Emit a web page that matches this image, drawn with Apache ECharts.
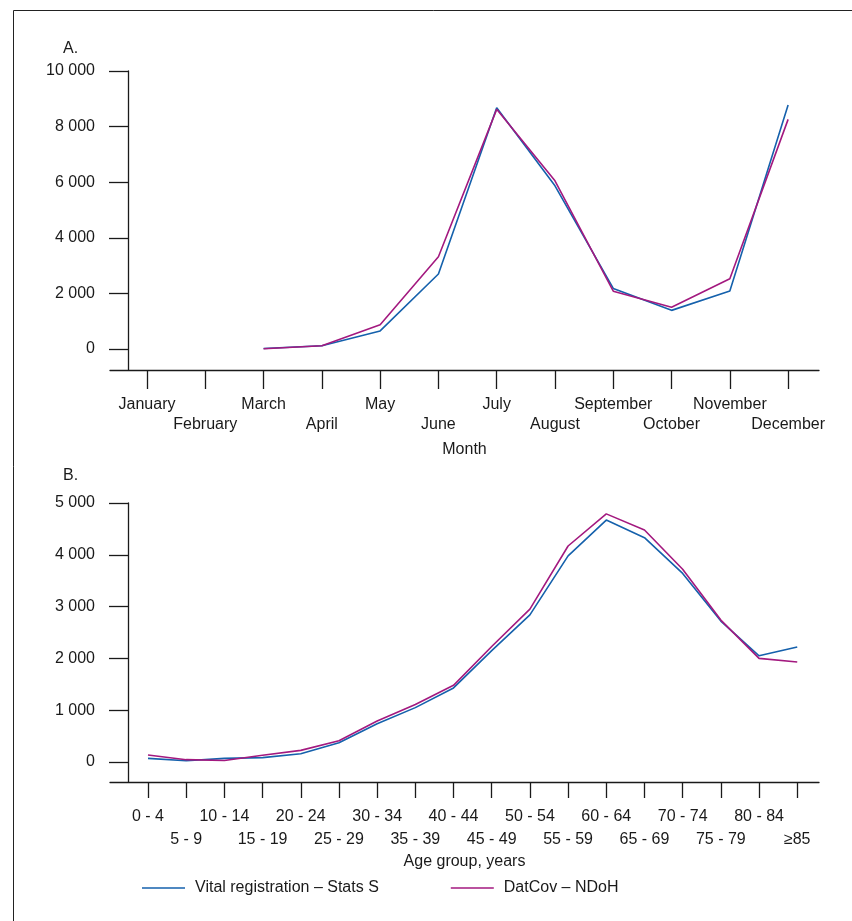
<!DOCTYPE html>
<html>
<head>
<meta charset="utf-8">
<script src="https://cdn.jsdelivr.net/npm/echarts@6/dist/echarts.min.js"></script>
<style>
  html, body { margin: 0; padding: 0; background: #fff; }
  #chart { width: 852px; height: 921px; }
</style>
</head>
<body>
<div id="chart"></div>
<script>
// ---- Data ----
const months = ['January', 'February', 'March', 'April', 'May', 'June', 'July', 'August', 'September', 'October', 'November', 'December'];
const monthVital = [null, null, 20, 120, 650, 2700, 8680, 5870, 2180, 1390, 2090, 8780];
const monthDatcov = [null, null, 10, 120, 875, 3320, 8620, 6050, 2080, 1500, 2530, 8260];

const ageGroups = ['0 - 4', '5 - 9', '10 - 14', '15 - 19', '20 - 24', '25 - 29', '30 - 34', '35 - 39', '40 - 44', '45 - 49', '50 - 54', '55 - 59', '60 - 64', '65 - 69', '70 - 74', '75 - 79', '80 - 84', '≥85'];
const ageVital = [70, 25, 70, 85, 160, 370, 740, 1050, 1430, 2150, 2840, 3980, 4670, 4330, 3640, 2720, 2050, 2220];
const ageDatcov = [135, 45, 30, 130, 225, 410, 790, 1110, 1480, 2230, 2950, 4170, 4790, 4480, 3720, 2740, 2000, 1930];

const yTicksA = [0, 2000, 4000, 6000, 8000, 10000];
const yTicksB = [0, 1000, 2000, 3000, 4000, 5000];

const seriesNames = ['Vital registration – Stats S', 'DatCov – NDoH'];
const panelTitles = ['A.', 'B.'];
const axisNames = ['Month', 'Age group, years'];

// ---- Helpers ----
const BLUE = '#1561ac';
const MAGENTA = '#a3197f';
const INK = '#1a1a1a';
const FONT = 'Liberation Sans';
const FS = 16;

function fmtThousands(v) {
  return String(v).replace(/\B(?=(\d{3})+(?!\d))/g, ' ');
}
function toPairs(arr) {
  const out = [];
  arr.forEach((v, i) => { if (v !== null) out.push([i, v]); });
  return out;
}
function idx(n) { return Array.from({ length: n }, (_, i) => i); }

// Three stacked bottom axes per panel: line+ticks, even-row labels, odd-row labels
function xAxesFor(gridIndex, cats, min, max, name, tickLen, margin1, margin2) {
  const base = {
    type: 'value', gridIndex, min, max, position: 'bottom', offset: 0,
    splitLine: { show: false }
  };
  const all = idx(cats.length);
  return [
    Object.assign({}, base, {
      name, nameLocation: 'middle', nameGap: 72,
      nameTextStyle: { fontFamily: FONT, fontSize: FS, color: INK },
      axisLine: { show: true, onZero: false, lineStyle: { color: INK, width: 1.3 } },
      axisTick: { show: true, length: tickLen, customValues: all, lineStyle: { color: INK, width: 1.3 } },
      axisLabel: { show: false }
    }),
    Object.assign({}, base, {
      axisLine: { show: false, onZero: false },
      axisTick: { show: false },
      axisLabel: {
        customValues: all.filter(i => i % 2 === 0), hideOverlap: false,
        margin: margin1, fontFamily: FONT, fontSize: FS, color: INK,
        formatter: v => cats[v]
      }
    }),
    Object.assign({}, base, {
      axisLine: { show: false, onZero: false },
      axisTick: { show: false },
      axisLabel: {
        customValues: all.filter(i => i % 2 === 1), hideOverlap: false,
        margin: margin2, fontFamily: FONT, fontSize: FS, color: INK,
        formatter: v => cats[v]
      }
    })
  ];
}
function yAxisFor(gridIndex, min, max, ticks) {
  return {
    type: 'value', gridIndex, min, max, offset: -18,
    axisLine: { show: true, onZero: false, lineStyle: { color: INK, width: 1.3 } },
    axisTick: { show: true, length: 19, customValues: ticks, lineStyle: { color: INK, width: 1.3 } },
    axisLabel: {
      customValues: ticks, margin: 33, fontFamily: FONT, fontSize: FS, color: INK,
      formatter: v => fmtThousands(v)
    },
    splitLine: { show: false }
  };
}
function lineSeries(name, data, color, xIdx, yIdx) {
  return {
    name, type: 'line', data: toPairs(data),
    xAxisIndex: xIdx, yAxisIndex: yIdx,
    symbol: 'none', smooth: false,
    lineStyle: { color, width: 1.6 }, itemStyle: { color },
    animation: false
  };
}

const chart = echarts.init(document.getElementById('chart'), null, { renderer: 'canvas' });
chart.setOption({
  animation: false,
  backgroundColor: '#fff',
  graphic: [{
    type: 'rect', left: 11, top: 8, silent: true,
    shape: { width: 900, height: 960 },
    style: { fill: 'none', stroke: '#222', lineWidth: 1 }
  }],
  title: [
    { text: panelTitles[0], left: 58, top: 36, textStyle: { fontFamily: FONT, fontSize: FS, fontWeight: 'normal', color: INK } },
    { text: panelTitles[1], left: 58, top: 463, textStyle: { fontFamily: FONT, fontSize: FS, fontWeight: 'normal', color: INK } }
  ],
  legend: {
    left: 137, top: 875,
    itemWidth: 43, itemHeight: 12, itemGap: 72,
    icon: 'path://M0,5.2 L43,5.2 L43,6.8 L0,6.8 Z',
    data: seriesNames,
    textStyle: { fontFamily: FONT, fontSize: FS, color: INK, padding: [0, 0, 0, 5] }
  },
  grid: [
    { left: 110, top: 71, width: 709, height: 299 },
    { left: 110, top: 503, width: 709, height: 279 }
  ],
  xAxis: [].concat(
    xAxesFor(0, months, -0.635, 11.53, axisNames[0], 19, 27, 47),
    xAxesFor(1, ageGroups, -0.995, 17.57, axisNames[1], 16, 27, 50)
  ),
  yAxis: [
    yAxisFor(0, -755, 10000, yTicksA),
    yAxisFor(1, -386, 5000, yTicksB)
  ],
  series: [
    lineSeries(seriesNames[0], monthVital, BLUE, 0, 0),
    lineSeries(seriesNames[1], monthDatcov, MAGENTA, 0, 0),
    lineSeries(seriesNames[0], ageVital, BLUE, 3, 1),
    lineSeries(seriesNames[1], ageDatcov, MAGENTA, 3, 1)
  ]
});
</script>
</body>
</html>
